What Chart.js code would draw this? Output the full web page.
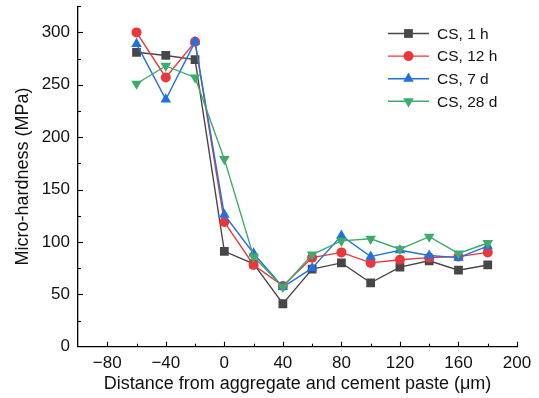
<!DOCTYPE html>
<html>
<head>
<meta charset="utf-8">
<script src="https://cdn.jsdelivr.net/npm/chart.js@4.4.1/dist/chart.umd.min.js"></script>
<style>
  html, body { margin: 0; padding: 0; background: #fff; }
  #wrap { width: 539px; height: 398px; }
</style>
</head>
<body>
<div id="wrap"><canvas id="hardnessChart" width="539" height="398"></canvas></div>
<script>
// distance from the aggregate surface (um)
const distances = [-60, -40, -20, 0, 20, 40, 60, 80, 100, 120, 140, 160, 180];

// micro-hardness (MPa) per curing age
const cs1h  = [281, 278, 274, 91, 79, 41, 74, 80, 61, 76, 82, 73, 78];
const cs12h = [300, 257, 291, 119, 78, 58, 85, 90, 80, 83, 85, 86, 90];
const cs7d  = [289, 236, 291, 126, 89, 57, 75, 106, 86, 92, 87, 85, 96];
const cs28d = [251, 268, 257, 179, 86, 57, 88, 101, 103, 93, 105, 89, 99];

const seriesLabels = ["CS, 1 h", "CS, 12 h", "CS, 7 d", "CS, 28 d"];

const xTicks = [-80, -40, 0, 40, 80, 120, 160, 200];
const yTicks = [0, 50, 100, 150, 200, 250, 300];

const FONT = "'Liberation Sans', Arial, sans-serif";

function toPoints(ys) {
  return distances.map((x, i) => ({ x: x, y: ys[i] }));
}

function makeSet(label, ys, color, style, radius, rot, order) {
  return {
    label: label,
    data: toPoints(ys),
    borderColor: color,
    backgroundColor: color,
    borderWidth: 1.4,
    pointStyle: style,
    pointRadius: radius,
    pointRotation: rot,
    pointBorderWidth: 0,
    tension: 0,
    order: order
  };
}

const datasets = [
  makeSet(seriesLabels[0], cs1h, "#474747", "rect", 6.2, 0, 3),
  makeSet(seriesLabels[1], cs12h, "#e8383b", "circle", 5, 0, 2),
  makeSet(seriesLabels[2], cs7d, "#2172e0", "triangle", 6.1, 0, 1),
  makeSet(seriesLabels[3], cs28d, "#3dac68", "triangle", 6.1, 180, 0)
];

// inward ticks on left and bottom axes, major + minor
const innerTicks = {
  id: "innerTicks",
  afterDraw(chart) {
    const ctx = chart.ctx;
    const xs = chart.scales.x, ys = chart.scales.y;
    const area = chart.chartArea;
    ctx.save();
    ctx.strokeStyle = "#000";
    ctx.lineWidth = 1.1;
    for (let v = -80; v <= 200; v += 20) {
      const px = Math.round(xs.getPixelForValue(v)) + 0.5;
      const len = v % 40 === 0 ? 5 : 3;
      ctx.beginPath();
      ctx.moveTo(px, area.bottom);
      ctx.lineTo(px, area.bottom - len);
      ctx.stroke();
    }
    for (let v = 25; v <= 325; v += 25) {
      const py = Math.round(ys.getPixelForValue(v)) + 0.5;
      const len = v % 50 === 0 ? 5 : 3;
      ctx.beginPath();
      ctx.moveTo(area.left, py);
      ctx.lineTo(area.left + len, py);
      ctx.stroke();
    }
    ctx.restore();
  }
};

// legend with a line through each marker
const lineLegend = {
  id: "lineLegend",
  afterDraw(chart) {
    const ctx = chart.ctx;
    const x0 = 388, x1 = 429, top = 33.5, step = 22.6;
    ctx.save();
    ctx.font = "15.5px " + FONT;
    ctx.textBaseline = "middle";
    chart.data.datasets.forEach((ds, i) => {
      const y = top + i * step;
      ctx.strokeStyle = ds.borderColor;
      ctx.lineWidth = 1.4;
      ctx.beginPath();
      ctx.moveTo(x0, y);
      ctx.lineTo(x1, y);
      ctx.stroke();
      ctx.fillStyle = ds.backgroundColor;
      Chart.helpers.drawPoint(ctx, {
        pointStyle: ds.pointStyle,
        rotation: ds.pointRotation,
        radius: ds.pointRadius,
        borderWidth: 0
      }, (x0 + x1) / 2, y);
      ctx.fillStyle = "#111";
      ctx.fillText(ds.label, 437, y + 1);
    });
    ctx.restore();
  }
};

new Chart(document.getElementById("hardnessChart"), {
  type: "line",
  data: { datasets: datasets },
  plugins: [innerTicks, lineLegend],
  options: {
    responsive: false,
    animation: false,
    layout: { padding: { top: 6, right: 22, left: 0, bottom: 0 } },
    plugins: {
      legend: { display: false },
      tooltip: { enabled: false }
    },
    scales: {
      x: {
        type: "linear",
        min: -100,
        max: 200,
        afterBuildTicks(scale) {
          scale.ticks = xTicks.map(v => ({ value: v }));
        },
        afterFit(scale) {
          scale.height = 51.3;
          scale.paddingLeft = 0;
          scale.paddingRight = 0;
        },
        grid: { display: false, drawTicks: false },
        border: { display: true, color: "#000", width: 1.3 },
        ticks: {
          padding: 6,
          color: "#111",
          font: { family: FONT, size: 17 },
          maxRotation: 0,
          callback: v => (v < 0 ? "\u2212" + Math.abs(v) : String(v))
        },
        title: {
          display: true,
          text: "Distance from aggregate and cement paste (\u03bcm)",
          color: "#111",
          font: { family: FONT, size: 18 },
          padding: { top: 0, bottom: 3 }
        }
      },
      y: {
        type: "linear",
        min: 0,
        max: 325,
        afterBuildTicks(scale) {
          scale.ticks = yTicks.map(v => ({ value: v }));
        },
        afterFit(scale) {
          scale.width = 78;
          scale.paddingTop = 0;
          scale.paddingBottom = 0;
        },
        grid: { display: false, drawTicks: false },
        border: { display: true, color: "#000", width: 1.3 },
        ticks: {
          padding: 8,
          color: "#111",
          font: { family: FONT, size: 17 }
        },
        title: {
          display: true,
          text: "Micro-hardness (MPa)",
          color: "#111",
          font: { family: FONT, size: 18 },
          padding: { top: 12, bottom: 0 }
        }
      }
    }
  }
});
</script>
</body>
</html>
